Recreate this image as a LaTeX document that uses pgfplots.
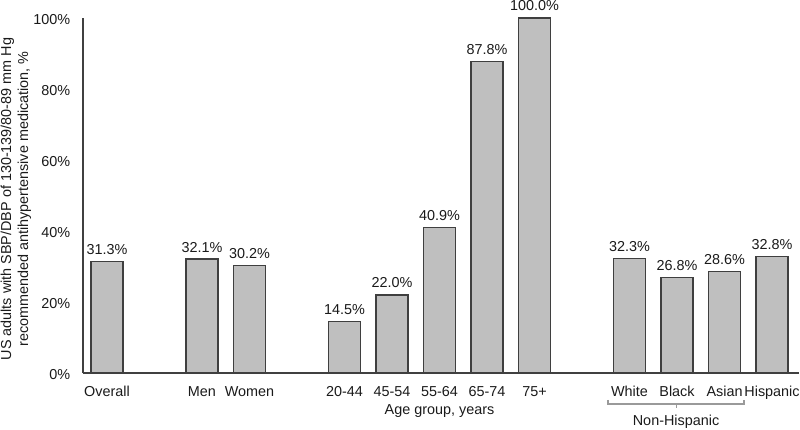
\documentclass[border=0pt]{standalone}
\usepackage{pgfplots}
\pgfplotsset{compat=1.18}
\usepackage{fontspec}
\setmainfont{Liberation Sans}
\definecolor{barfill}{HTML}{BFBFBF}
\definecolor{baredge}{HTML}{3F3F3F}
\definecolor{axcol}{HTML}{404040}
\definecolor{txt}{HTML}{1A1A1A}
\definecolor{brk}{HTML}{9A9A9A}
\begin{document}
\begin{tikzpicture}[x=1pt,y=1pt]
\useasboundingbox (0,0) rectangle (600,321.75);
\begin{axis}[
  at={(62.25pt,42pt)}, anchor=south west,
  scale only axis, width=537pt, height=266.25pt,
  font=\fontsize{10.8}{12.8}\selectfont, text=txt,
  /pgf/number format/assume math mode=true,
  xmin=-0.505, xmax=14.568, ymin=0, ymax=100,
  axis x line=bottom, axis y line=left,
  axis line style={-, draw=axcol, line width=1pt},
  major tick length=0pt,
  xtick={0,2,3,5,6,7,8,9,11,12,13,14},
  xticklabels={Overall,Men,Women,20-44,45-54,55-64,65-74,75+,White,Black,Asian,Hispanic},
  xticklabel style={anchor=base, yshift=-17.6pt, text=txt},
  ytick={0,20,40,60,80,100},
  yticklabel={\pgfmathprintnumber{\tick}\%},
  yticklabel style={anchor=east, xshift=-6pt, yshift=-1.2pt, text=txt},
  ylabel={US adults with SBP/DBP of 130-139/80-89 mm Hg\\recommended antihypertensive medication, \%},
  ylabel style={at={(axis description cs:-0.0936,0.49)}, anchor=center, align=center, rotate=0, text=txt},
  clip=false,
  nodes near coords={\pgfmathprintnumber[fixed,fixed zerofill,precision=1]{\pgfplotspointmeta}\%},
  nodes near coords style={anchor=base, yshift=5.25pt, text=txt},
]
\addplot[ybar, bar width=24pt, fill=barfill, draw=baredge, line width=0.9pt] coordinates {
  (0,31.3) (2,32.1) (3,30.2) (5,14.5) (6,22.0) (7,40.9) (8,87.8) (9,100.0)
  (11,32.3) (12,26.8) (13,28.6) (14,32.8)
};
\node[anchor=base, text=txt] at (axis cs:7,-11.55) {Age group, years};
\draw[brk, line width=0.8pt] (axis cs:10.547,-7.6) -- (axis cs:10.547,-8.73) -- (axis cs:13.41,-8.73) -- (axis cs:13.41,-7.6);
\draw[brk, line width=0.8pt] (axis cs:11.98,-8.73) -- (axis cs:11.98,-9.9);
\node[anchor=base, text=txt] at (axis cs:11.98,-14.65) {Non-Hispanic};
\end{axis}
\end{tikzpicture}
\end{document}
